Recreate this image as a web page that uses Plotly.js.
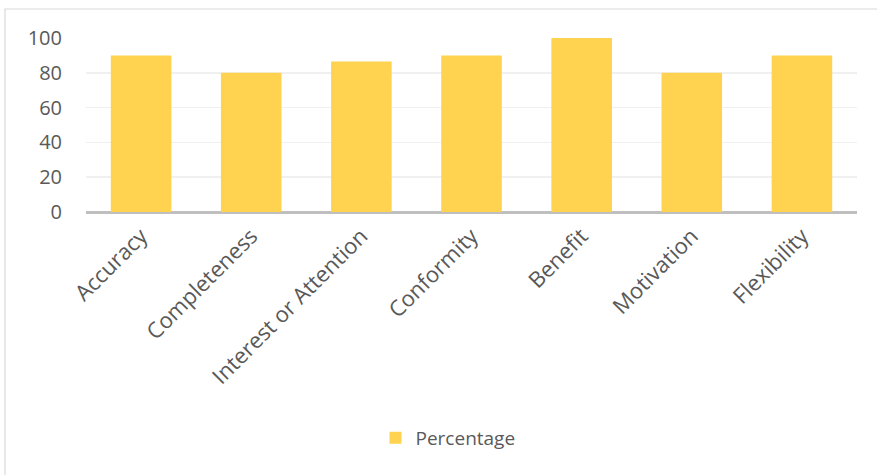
<!DOCTYPE html>
<html><head><meta charset="utf-8">
<script src="https://cdn.plot.ly/plotly-3.0.1.min.js"></script>
<style>html,body{margin:0;padding:0;background:#fff}#c{width:877px;height:475px}</style>
</head><body><div id="c"></div>
<script>
const categories = ["Accuracy","Completeness","Interest or Attention","Conformity","Benefit","Motivation","Flexibility"];
const percentage = [90, 80, 86.5, 90, 100, 80, 90];
const yTicks = [0, 20, 40, 60, 80, 100];
const seriesName = "Percentage";

const W = 877, H = 475;
const L = 86, R = 20, T = 38, B = 263;
const pw = W - L - R, ph = H - T - B;
const px = v => (v - L) / pw;
const py = v => (H - B - v) / ph;

const font = "'Open Sans', 'Noto Sans', sans-serif";

Plotly.newPlot('c', [{
  type: 'bar',
  x: categories,
  y: percentage,
  name: seriesName,
  marker: {color: 'rgb(255,211,80)', line: {width: 0}},
  showlegend: true
}], {
  width: W, height: H,
  margin: {l: L, r: R, t: T, b: B, pad: 0},
  paper_bgcolor: '#fff', plot_bgcolor: '#fff',
  bargap: 0.45,
  font: {family: font, color: '#595959', size: 19},
  xaxis: {
    tickangle: -45, showgrid: false, showline: false, zeroline: false,
    ticks: '', tickfont: {family: font, size: 22, color: '#595959'}, ticklabelstandoff: 6
  },
  yaxis: {
    range: [0, 100], tickvals: yTicks, showgrid: true, gridcolor: '#f0f0f0', gridwidth: 1.5,
    zeroline: true, zerolinecolor: '#bfbfbf', zerolinewidth: 3, showline: false,
    ticks: '', tickfont: {family: font, size: 20, color: '#595959'}, ticklabelstandoff: 23, fixedrange: true
  },
  legend: {
    orientation: 'h', x: px(448), xanchor: 'center', y: py(438), yanchor: 'middle',
    font: {family: font, size: 19, color: '#595959'}, itemwidth: 30
  },
  shapes: [{
    type: 'rect', xref: 'paper', yref: 'paper',
    x0: px(5), x1: px(900), y0: py(9), y1: py(500),
    line: {color: '#d9d9d9', width: 1.2}, fillcolor: 'rgba(0,0,0,0)', layer: 'below'
  }]
}, {displayModeBar: false, staticPlot: true});
</script></body></html>
